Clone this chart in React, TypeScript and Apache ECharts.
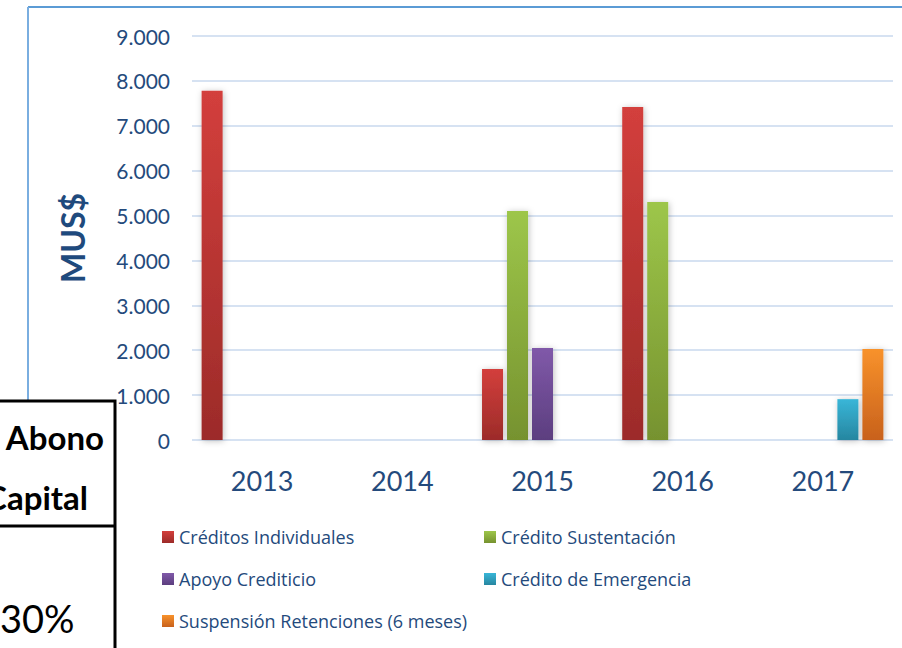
import React, { useEffect, useRef } from "react";
import * as echarts from "echarts";

const years = ["2013", "2014", "2015", "2016", "2017"];
const creditosIndividuales = [7780, null, 1580, 7420, null];
const creditoSustentacion = [null, null, 5100, 5300, null];
const apoyoCrediticio = [null, null, 2050, null, null];
const creditoEmergencia = [null, null, null, null, 910];
const suspensionRetenciones = [null, null, null, null, 2030];
const yTicks = [0, 1000, 2000, 3000, 4000, 5000, 6000, 7000, 8000, 9000];

const seriesNames = [
  "Créditos Individuales",
  "Crédito Sustentación",
  "Apoyo Crediticio",
  "Crédito de Emergencia",
  "Suspensión Retenciones (6 meses)",
];
const seriesData = [
  creditosIndividuales,
  creditoSustentacion,
  apoyoCrediticio,
  creditoEmergencia,
  suspensionRetenciones,
];
const gradients = [
  ["#d33f3c", "#9c2b29"],
  ["#9dc64a", "#76922f"],
  ["#8059a9", "#5c3e7f"],
  ["#39b6d8", "#2686a0"],
  ["#f8922b", "#c8611c"],
];

const FONT = "Lato, 'Open Sans', sans-serif";
const TEXT_BLUE = "#244a7c";

export default function App() {
  const ref = useRef<HTMLDivElement>(null);
  useEffect(() => {
    if (!ref.current) return;
    const chart = echarts.init(ref.current, undefined, { renderer: "svg" });
    const grad = (c: string[]) =>
      new echarts.graphic.LinearGradient(0, 0, 0, 1, [
        { offset: 0, color: c[0] },
        { offset: 1, color: c[1] },
      ]);
    const legendPos = [
      { left: 162, top: 528 },
      { left: 484, top: 528 },
      { left: 162, top: 570 },
      { left: 484, top: 570 },
      { left: 162, top: 612 },
    ];
    chart.setOption({
      animation: false,
      backgroundColor: "#ffffff",
      grid: { left: 192, right: 9, top: 36, bottom: 208 },
      xAxis: {
        type: "category",
        data: years,
        axisLine: { show: false },
        axisTick: { show: false },
        axisLabel: { color: TEXT_BLUE, fontSize: 27, fontFamily: FONT, margin: 27 },
      },
      yAxis: {
        type: "value",
        min: 0,
        max: 9000,
        interval: 1000,
        name: "MUS$",
        nameLocation: "middle",
        nameRotate: 90,
        nameGap: 104,
        nameTextStyle: { color: "#1f4a7d", fontSize: 32, fontWeight: "bold", fontFamily: FONT },
        axisLine: { show: false },
        axisTick: { show: false },
        splitLine: { lineStyle: { color: "#d6e2f2", width: 2 } },
        axisLabel: {
          color: TEXT_BLUE,
          fontSize: 21,
          fontFamily: FONT,
          margin: 22,
          formatter: (v: number) =>
            yTicks.includes(v) ? String(v).replace(/\B(?=(\d{3})+(?!\d))/g, ".") : "",
        },
      },
      legend: seriesNames.map((n, i) => ({
        data: [n],
        left: legendPos[i].left,
        top: legendPos[i].top,
        padding: 0,
        itemWidth: 12,
        itemHeight: 12,
        itemGap: 0,
        icon: "rect",
        selectedMode: false,
        textStyle: { color: TEXT_BLUE, fontSize: 18, fontFamily: "'Open Sans', sans-serif" },
      })),
      series: seriesNames.map((n, i) => ({
        name: n,
        type: "bar",
        data: seriesData[i],
        barWidth: 21,
        barGap: "19%",
        itemStyle: {
          color: grad(gradients[i]),
          shadowBlur: 6,
          shadowColor: "rgba(0,0,0,0.25)",
          shadowOffsetX: 1,
          shadowOffsetY: 1,
        },
      })),
      graphic: [
        {
          type: "line",
          shape: { x1: 28, y1: 7, x2: 902, y2: 7 },
          style: { stroke: "#5b9bd5", lineWidth: 2 },
          z: 10,
        },
        {
          type: "line",
          shape: { x1: 28, y1: 7, x2: 28, y2: 648 },
          style: { stroke: "#7aaee0", lineWidth: 2 },
          z: 10,
        },
        {
          type: "rect",
          shape: { x: -10, y: 401, width: 125, height: 260 },
          style: { fill: "#ffffff", stroke: "#000000", lineWidth: 3 },
          z: 20,
        },
        {
          type: "line",
          shape: { x1: 0, y1: 526, x2: 115, y2: 526 },
          style: { stroke: "#000000", lineWidth: 3 },
          z: 21,
        },
        {
          type: "text",
          x: 104,
          y: 437,
          style: {
            text: "Abono",
            fill: "#000000",
            font: "bold 33px Lato, sans-serif",
            textAlign: "right",
            textVerticalAlign: "middle",
          },
          z: 22,
        },
        {
          type: "text",
          x: 88,
          y: 497,
          style: {
            text: "Capital",
            fill: "#000000",
            font: "bold 33px Lato, sans-serif",
            textAlign: "right",
            textVerticalAlign: "middle",
          },
          z: 22,
        },
        {
          type: "text",
          x: 0,
          y: 618,
          style: {
            text: "30%",
            fill: "#000000",
            font: "38px Lato, sans-serif",
            textAlign: "left",
            textVerticalAlign: "middle",
          },
          z: 22,
        },
      ],
    });
    return () => chart.dispose();
  }, []);
  return (
    <div
      ref={ref}
      style={{ position: "fixed", left: 0, top: 0, width: 902, height: 648 }}
    />
  );
}
